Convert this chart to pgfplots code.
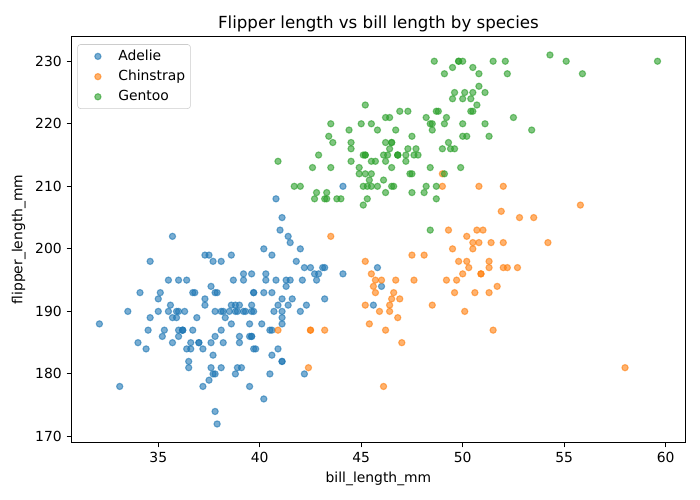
\documentclass[border=0pt]{standalone}
\usepackage{fontspec}
\setmainfont{DejaVu Sans}
\usepackage{pgfplots}
\usepackage{pgfplotstable}
\pgfplotsset{compat=1.18}
\definecolor{tabblue}{HTML}{1F77B4}
\definecolor{taborange}{HTML}{FF7F0E}
\definecolor{tabgreen}{HTML}{2CA02C}
\definecolor{legframe}{HTML}{CCCCCC}

\pgfplotstableread{
x y
39.1 181
39.5 186
40.3 195
36.7 193
39.3 190
38.9 181
39.2 195
34.1 193
42.0 190
37.8 186
37.8 180
41.1 182
38.6 191
34.6 198
36.6 185
38.7 195
42.5 197
34.4 184
46.0 194
37.8 174
37.7 180
35.9 189
38.2 185
38.8 180
35.3 187
40.6 183
40.5 187
37.9 172
40.5 180
39.5 178
37.2 178
39.5 188
40.9 184
36.4 195
39.2 196
38.8 190
42.2 180
37.6 181
39.8 184
36.5 182
40.8 195
36.0 186
44.1 196
37.0 185
39.6 190
41.1 182
37.5 179
36.0 190
42.3 191
39.6 186
40.1 188
35.0 190
42.0 200
34.5 187
41.4 191
39.0 186
40.6 193
36.5 181
37.6 194
35.7 185
41.3 195
37.6 185
41.1 192
36.4 184
41.6 192
35.5 195
41.1 188
35.9 190
41.8 198
33.5 190
39.7 190
39.6 196
45.8 197
35.5 190
42.8 195
40.9 191
37.2 184
36.2 187
42.1 195
34.6 189
42.9 196
36.7 187
35.1 193
37.3 191
41.3 194
36.3 190
36.9 189
38.3 189
38.9 190
35.7 202
41.1 205
34.0 185
39.6 186
36.2 187
40.8 208
38.1 190
40.3 196
33.1 178
43.2 192
35.0 192
41.0 203
37.7 183
37.8 190
37.9 193
39.7 184
38.6 199
38.2 190
38.1 181
43.2 197
38.1 198
45.6 191
39.7 193
42.2 197
39.6 191
42.7 196
38.6 188
37.3 199
35.7 189
41.1 189
36.2 187
37.7 198
40.2 176
41.4 202
35.2 186
40.6 199
38.8 191
41.5 195
39.0 191
44.1 210
38.5 190
43.1 197
36.8 193
37.5 199
38.1 187
41.1 190
35.6 191
40.2 200
37.0 185
39.7 193
40.2 193
40.6 187
32.1 188
40.7 190
37.3 192
39.0 185
39.2 190
36.6 184
36.0 195
37.8 193
36.0 187
41.5 201
}\adelie

\pgfplotstableread{
x y
46.5 192
50.0 196
51.3 193
45.4 188
52.7 197
45.2 198
46.1 178
51.3 197
46.0 195
51.3 198
46.6 193
51.7 194
47.0 185
52.0 201
45.9 190
50.5 201
50.3 197
58.0 181
46.4 190
49.2 195
42.4 181
48.5 191
43.2 187
50.6 193
46.7 195
52.0 197
50.5 200
49.5 200
46.4 191
52.8 205
40.9 187
54.2 201
42.5 187
51.0 203
49.7 195
47.5 199
47.6 195
52.0 210
46.9 192
53.5 205
49.0 210
46.2 187
50.9 196
45.5 196
50.9 196
50.8 201
50.1 190
49.0 212
51.5 187
49.8 198
48.1 199
51.4 201
45.7 193
50.7 203
42.5 187
52.2 197
45.2 191
49.3 203
50.2 202
45.6 194
51.9 206
46.8 189
45.7 195
55.8 207
43.5 202
49.6 193
50.8 210
50.2 198
}\chinstrap

\pgfplotstableread{
x y
46.1 211
50.0 230
48.7 210
50.0 218
47.6 215
46.5 210
45.4 211
46.7 219
43.3 209
46.8 215
40.9 214
49.0 216
45.5 214
48.4 213
45.8 210
49.3 217
42.0 210
49.2 221
46.2 209
48.7 222
50.2 218
45.1 215
46.5 213
46.3 215
42.9 215
46.1 215
44.5 216
47.8 215
48.2 210
50.0 220
47.3 222
42.8 209
45.1 207
59.6 230
49.1 220
48.4 220
42.6 213
44.4 219
44.0 208
48.7 208
42.7 208
49.6 225
45.3 210
49.6 216
50.5 222
43.6 217
45.5 210
50.5 225
44.9 213
45.2 215
46.6 210
48.5 220
45.1 210
50.1 225
46.5 217
45.0 220
43.8 208
45.5 220
43.2 208
50.4 224
45.3 208
46.2 221
45.7 214
54.3 231
45.8 219
49.8 230
46.2 214
49.5 229
43.5 220
50.7 223
47.7 216
46.4 221
48.2 221
46.5 217
46.4 216
48.6 230
47.5 209
51.1 220
45.2 215
45.2 223
49.1 212
52.5 221
47.4 212
50.0 224
44.9 212
50.8 228
43.4 218
51.3 218
47.5 212
52.1 230
47.5 218
52.2 228
45.5 212
49.5 224
44.5 214
50.8 226
49.4 216
46.9 222
48.4 203
51.1 225
48.5 219
55.9 228
47.2 215
49.1 228
47.3 216
46.8 215
41.7 210
53.4 219
43.3 208
48.1 209
50.5 229
49.8 230
43.5 213
51.5 230
46.2 217
55.1 230
44.5 217
48.8 222
47.2 214
46.8 215
50.4 222
45.2 212
49.9 213
}\gentoo

\begin{document}
\begin{tikzpicture}
\path[use as bounding box] (-51.5pt,-41.4pt) rectangle (452.6pt,318.6pt);
\begin{axis}[
  at={(0,0)}, anchor=south west,
  scale only axis, width=442.1pt, height=292.3pt,
  xmin=30.725, xmax=60.975, ymin=169.05, ymax=233.95,
  xtick={35,40,45,50,55,60}, ytick={170,180,190,200,210,220,230},
  tick align=outside, tick pos=left, major tick length=3.5pt,
  every tick/.style={black, line width=0.8pt},
  axis line style={line width=0.8pt},
  /pgf/number format/assume math mode=true,
  tick label style={font=\fontsize{10}{12}\selectfont},
  xlabel={bill\_length\_mm}, ylabel={flipper\_length\_mm},
  label style={font=\fontsize{10}{12}\selectfont},
  title={Flipper length vs bill length by species},
  every axis title/.style={at={(0.5,1)}, anchor=base, yshift=5.5pt, font=\fontsize{12}{14}\selectfont},
  legend style={font=\fontsize{10}{12}\selectfont, draw=legframe, rounded corners=2pt,
    fill=white, fill opacity=0.8, text opacity=1, at={(0.0095,0.981)}, anchor=north west,
    inner xsep=1.8pt, inner ysep=2pt, row sep=1.5pt},
  legend cell align=left,
  legend image code/.code={\path[draw=none,fill=none] (0pt,-1pt) rectangle (25.5pt,1pt); \draw plot coordinates {(12.8pt,0pt)};},
]
\addplot[only marks, mark=*, mark size=2.236pt, mark options={line width=0.8pt, draw=tabblue, fill=tabblue, fill opacity=0.6, draw opacity=0.6}] table {\adelie};
\addlegendentry{Adelie}
\addplot[only marks, mark=*, mark size=2.236pt, mark options={line width=0.8pt, draw=taborange, fill=taborange, fill opacity=0.6, draw opacity=0.6}] table {\chinstrap};
\addlegendentry{Chinstrap}
\addplot[only marks, mark=*, mark size=2.236pt, mark options={line width=0.8pt, draw=tabgreen, fill=tabgreen, fill opacity=0.6, draw opacity=0.6}] table {\gentoo};
\addlegendentry{Gentoo}
\end{axis}
\end{tikzpicture}
\end{document}
